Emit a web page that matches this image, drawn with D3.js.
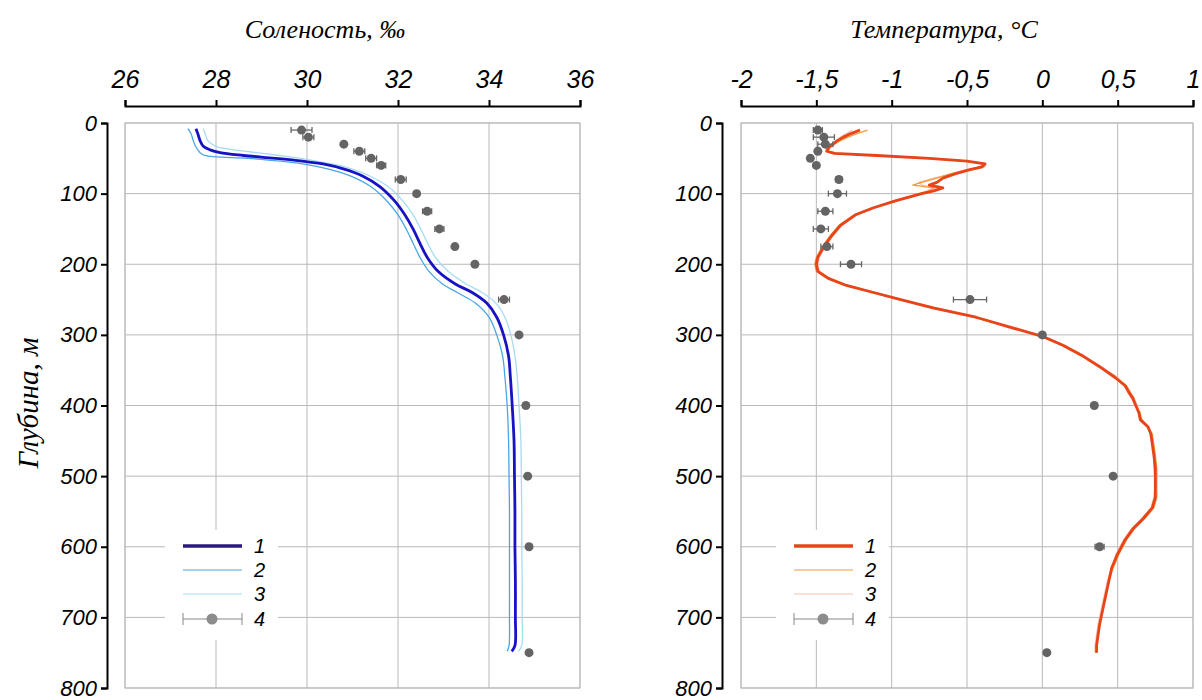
<!DOCTYPE html>
<html>
<head>
<meta charset="utf-8">
<script src="https://cdn.jsdelivr.net/npm/d3@7"></script>
<style>
  body { margin: 0; background: #fff; }
  svg { display: block; }
</style>
</head>
<body>
<div id="chart"></div>
<script>
// salinity profiles
var depthS = [8, 15, 25, 33, 38, 42, 46, 50, 54, 58, 65, 75, 90, 110, 130, 150, 170, 190, 210, 228, 240, 255, 275, 300, 330, 360, 400, 450, 500, 550, 600, 650, 700, 740, 748]
var sal1 = [27.56, 27.60, 27.65, 27.72, 27.87, 28.09, 28.6, 29.3, 29.9, 30.35, 30.8, 31.22, 31.6, 31.92, 32.15, 32.33, 32.48, 32.64, 32.88, 33.26, 33.63, 33.95, 34.17, 34.32, 34.43, 34.47, 34.51, 34.55, 34.56, 34.57, 34.57, 34.58, 34.58, 34.57, 34.50]
var sal2 = [27.38, 27.45, 27.50, 27.55, 27.60, 27.65, 27.75, 28.7, 29.4, 29.9, 30.45, 30.95, 31.4, 31.75, 32.0, 32.18, 32.33, 32.48, 32.68, 32.98, 33.3, 33.7, 34.0, 34.17, 34.3, 34.35, 34.4, 34.43, 34.44, 34.45, 34.45, 34.45, 34.45, 34.44, 34.40]
var sal3 = [27.72, 27.76, 27.82, 28.0, 28.4, 28.9, 29.4, 29.85, 30.2, 30.55, 30.98, 31.38, 31.78, 32.1, 32.33, 32.5, 32.65, 32.82, 33.1, 33.5, 33.85, 34.15, 34.35, 34.48, 34.57, 34.62, 34.66, 34.7, 34.71, 34.72, 34.72, 34.73, 34.73, 34.72, 34.65]

var obsDepth = [10, 20, 30, 40, 50, 60, 80, 100, 125, 150, 175, 200, 250, 300, 400, 500, 600, 750]
var obsSal = [29.88, 30.03, 30.81, 31.15, 31.41, 31.63, 32.06, 32.41, 32.64, 32.91, 33.25, 33.69, 34.33, 34.66, 34.81, 34.85, 34.88, 34.88]
var obsSalErr = [0.23, 0.12, 0, 0.12, 0.12, 0.1, 0.12, 0.05, 0.1, 0.1, 0, 0, 0.12, 0, 0, 0, 0, 0]

// temperature profiles
var depthT = [10, 15, 20, 25, 30, 35, 40, 43, 46, 50, 54, 58, 62, 66, 72, 78, 84, 88, 92, 96, 100, 110, 120, 130, 145, 160, 175, 190, 200, 210, 220, 230, 240, 250, 262, 275, 290, 302, 315, 330, 345, 360, 372, 380, 390, 400, 410, 420, 430, 440, 455, 470, 490, 510, 530, 545, 560, 575, 590, 610, 630, 650, 680, 710, 740, 750]
var temp1 = [-1.21, -1.27, -1.32, -1.36, -1.39, -1.42, -1.43, -1.38, -1.10, -0.75, -0.50, -0.38, -0.40, -0.48, -0.58, -0.66, -0.70, -0.75, -0.66, -0.72, -0.80, -0.97, -1.12, -1.24, -1.34, -1.40, -1.45, -1.49, -1.50, -1.49, -1.42, -1.30, -1.12, -0.94, -0.72, -0.44, -0.20, 0.00, 0.14, 0.27, 0.38, 0.48, 0.55, 0.57, 0.60, 0.62, 0.64, 0.65, 0.70, 0.72, 0.73, 0.74, 0.75, 0.75, 0.75, 0.73, 0.67, 0.60, 0.55, 0.50, 0.46, 0.44, 0.41, 0.38, 0.36, 0.36]
var temp2 = [-1.16, -1.23, -1.29, -1.34, -1.38, -1.41, -1.42, -1.36, -1.08, -0.73, -0.49, -0.39, -0.41, -0.50, -0.61, -0.70, -0.80, -0.86, -0.72, -0.76, -0.82, -0.98, -1.13, -1.25, -1.35, -1.41, -1.46, -1.50, -1.51, -1.50, -1.43, -1.31, -1.13, -0.95, -0.71, -0.46, -0.19, -0.01, 0.13, 0.26, 0.37, 0.49, 0.56, 0.58, 0.61, 0.62, 0.65, 0.66, 0.70, 0.73, 0.74, 0.75, 0.76, 0.76, 0.76, 0.74, 0.68, 0.61, 0.56, 0.51, 0.47, 0.44, 0.41, 0.38, 0.36, 0.36]
var temp3 = [-1.26, -1.30, -1.34, -1.37, -1.40, -1.43, -1.44, -1.40, -1.12, -0.78, -0.52, -0.40, -0.38, -0.46, -0.60, -0.72, -0.82, -0.80, -0.70, -0.74, -0.81, -0.96, -1.11, -1.23, -1.33, -1.39, -1.44, -1.48, -1.49, -1.48, -1.41, -1.29, -1.11, -0.93, -0.69, -0.44, -0.17, 0.01, 0.15, 0.28, 0.39, 0.50, 0.54, 0.58, 0.61, 0.63, 0.64, 0.66, 0.71, 0.72, 0.73, 0.74, 0.74, 0.75, 0.74, 0.72, 0.66, 0.59, 0.54, 0.49, 0.46, 0.43, 0.40, 0.37, 0.35, 0.35]

var obsTemp = [-1.49, -1.45, -1.44, -1.49, -1.54, -1.50, -1.35, -1.36, -1.44, -1.47, -1.43, -1.27, -0.48, 0.0, 0.345, 0.47, 0.38, 0.03]
var obsTempErr = [0.03, 0.07, 0.05, 0, 0, 0, 0.02, 0.06, 0.05, 0.05, 0.04, 0.07, 0.11, 0.02, 0, 0, 0.03, 0]

var salTicks = [26, 28, 30, 32, 34, 36]
var tempTicks = [-2, -1.5, -1, -0.5, 0, 0.5, 1]
var depthTicks = [0, 100, 200, 300, 400, 500, 600, 700, 800]
var legendLabels = ["1", "2", "3", "4"]

var blueColors = ["#1712c4", "#4aa6e6", "#a6dcf2"]
var blueLegend = ["#2a1a7c", "#4aa6e6", "#a6dcf2"]
var redColors = ["#e8441a", "#f39a3a", "#f6bfae"]

var svg = d3.select("#chart").append("svg")
    .attr("width", 1202)
    .attr("height", 700)

var y = d3.scaleLinear().domain([0, 800]).range([123, 688])

function drawPanel(p) {

    var x = d3.scaleLinear().domain(p.domain).range([p.x0, p.x1])
    var g = svg.append("g")

    // grid
    g.selectAll(".vg").data(p.ticks).enter().append("line")
        .attr("x1", function(d) { return x(d) }).attr("x2", function(d) { return x(d) })
        .attr("y1", y(0)).attr("y2", y(800))
        .attr("stroke", "#b9b9b9").attr("stroke-width", 1)
    g.selectAll(".hg").data(depthTicks).enter().append("line")
        .attr("x1", p.x0).attr("x2", p.x1)
        .attr("y1", function(d) { return y(d) }).attr("y2", function(d) { return y(d) })
        .attr("stroke", "#b9b9b9").attr("stroke-width", 1)
    g.append("rect")
        .attr("x", p.x0).attr("y", y(0))
        .attr("width", p.x1 - p.x0).attr("height", y(800) - y(0))
        .attr("fill", "none").attr("stroke", "#b9b9b9")

    // axes
    var ax = g.append("g")
        .attr("transform", "translate(0,106)")
        .call(d3.axisTop(x).tickValues(p.ticks).tickSize(6).tickPadding(12).tickFormat(p.fmt))
    var ay = g.append("g")
        .attr("transform", "translate(" + p.axisX + ",0)")
        .call(d3.axisLeft(y).tickValues(depthTicks).tickSize(6).tickPadding(4))
    ax.selectAll("path, line").attr("stroke", "#000").attr("stroke-width", 2)
    ay.selectAll("path, line").attr("stroke", "#000").attr("stroke-width", 2)
    ax.selectAll("text").attr("font-size", 25).attr("font-style", "italic")
        .attr("font-family", "Liberation Sans, Arial, sans-serif").attr("fill", "#000")
    ay.selectAll("text").attr("font-size", 22).attr("font-style", "italic")
        .attr("font-family", "Liberation Sans, Arial, sans-serif").attr("fill", "#000")

    g.append("text")
        .attr("x", p.titleX).attr("y", 38)
        .attr("text-anchor", "middle")
        .attr("font-family", "Liberation Serif, Times New Roman, serif")
        .attr("font-style", "italic").attr("font-size", 26)
        .text(p.title)

    // profiles (3 under 2 under 1)
    var line = d3.line()
        .x(function(d) { return x(d[0]) })
        .y(function(d) { return y(d[1]) })
        .curve(p.curve)
    var widths = [2.8, 1.3, 1.3]
    for (var k = 2; k >= 0; k--) {
        var pts = p.series[k].map(function(v, i) { return [v, p.depth[i]] })
        g.append("path").datum(pts)
            .attr("d", line)
            .attr("fill", "none")
            .attr("stroke", p.colors[k])
            .attr("stroke-width", widths[k])
            .attr("stroke-linejoin", "round")
    }

    // observations with error bars
    var obs = obsDepth.map(function(d, i) { return { depth: d, v: p.obs[i], e: p.err[i] } })
    var eb = g.selectAll(".eb").data(obs.filter(function(d) { return d.e > 0 })).enter().append("g")
    eb.append("line")
        .attr("x1", function(d) { return x(d.v - d.e) }).attr("x2", function(d) { return x(d.v + d.e) })
        .attr("y1", function(d) { return y(d.depth) }).attr("y2", function(d) { return y(d.depth) })
        .attr("stroke", "#666").attr("stroke-width", 1.3)
    eb.append("line")
        .attr("x1", function(d) { return x(d.v - d.e) }).attr("x2", function(d) { return x(d.v - d.e) })
        .attr("y1", function(d) { return y(d.depth) - 3 }).attr("y2", function(d) { return y(d.depth) + 3 })
        .attr("stroke", "#666").attr("stroke-width", 1.3)
    eb.append("line")
        .attr("x1", function(d) { return x(d.v + d.e) }).attr("x2", function(d) { return x(d.v + d.e) })
        .attr("y1", function(d) { return y(d.depth) - 3 }).attr("y2", function(d) { return y(d.depth) + 3 })
        .attr("stroke", "#666").attr("stroke-width", 1.3)
    g.selectAll(".dot").data(obs).enter().append("circle")
        .attr("cx", function(d) { return x(d.v) })
        .attr("cy", function(d) { return y(d.depth) })
        .attr("r", 4.5)
        .attr("fill", "#646464")

    // legend
    var lg = g.append("g").attr("transform", "translate(" + p.legX + ",0)")
    lg.append("rect").attr("x", -18).attr("y", 530).attr("width", 113).attr("height", 110).attr("fill", "#fff")
    var rowsY = [546, 570, 594, 619]
    for (var r = 0; r < 3; r++) {
        lg.append("line").attr("x1", 0).attr("x2", 59)
            .attr("y1", rowsY[r]).attr("y2", rowsY[r])
            .attr("stroke", p.legendColors[r]).attr("stroke-width", r == 0 ? 3.5 : 1.2)
    }
    lg.append("line").attr("x1", 0).attr("x2", 59).attr("y1", rowsY[3]).attr("y2", rowsY[3])
        .attr("stroke", "#888").attr("stroke-width", 1)
    lg.append("line").attr("x1", 0).attr("x2", 0).attr("y1", rowsY[3] - 6).attr("y2", rowsY[3] + 6)
        .attr("stroke", "#888").attr("stroke-width", 1)
    lg.append("line").attr("x1", 59).attr("x2", 59).attr("y1", rowsY[3] - 6).attr("y2", rowsY[3] + 6)
        .attr("stroke", "#888").attr("stroke-width", 1)
    lg.append("circle").attr("cx", 29).attr("cy", rowsY[3]).attr("r", 5.5).attr("fill", "#8c8c8c")
    lg.selectAll(".lt").data(legendLabels).enter().append("text")
        .attr("x", 71)
        .attr("y", function(d, i) { return rowsY[i] + 7 })
        .attr("font-family", "Liberation Sans, Arial, sans-serif")
        .attr("font-style", "italic").attr("font-size", 20)
        .text(function(d) { return d })
}

drawPanel({
    x0: 125, x1: 580, axisX: 107,
    domain: [26, 36], ticks: salTicks,
    fmt: function(d) { return String(d) },
    title: "Соленость, ‰", titleX: 325,
    depth: depthS, series: [sal1, sal2, sal3], colors: blueColors, legendColors: blueLegend,
    curve: d3.curveCatmullRom,
    obs: obsSal, err: obsSalErr,
    legX: 183
})

drawPanel({
    x0: 741, x1: 1193, axisX: 722,
    domain: [-2, 1], ticks: tempTicks,
    fmt: function(d) { return String(d).replace(".", ",") },
    title: "Температура, °C", titleX: 944,
    depth: depthT, series: [temp1, temp2, temp3], colors: redColors, legendColors: redColors,
    curve: d3.curveLinear,
    obs: obsTemp, err: obsTempErr,
    legX: 794
})

svg.append("text")
    .attr("transform", "translate(38,403) rotate(-90)")
    .attr("text-anchor", "middle")
    .attr("font-family", "Liberation Serif, Times New Roman, serif")
    .attr("font-style", "italic").attr("font-size", 29)
    .text("Глубина, м")
</script>
</body>
</html>
